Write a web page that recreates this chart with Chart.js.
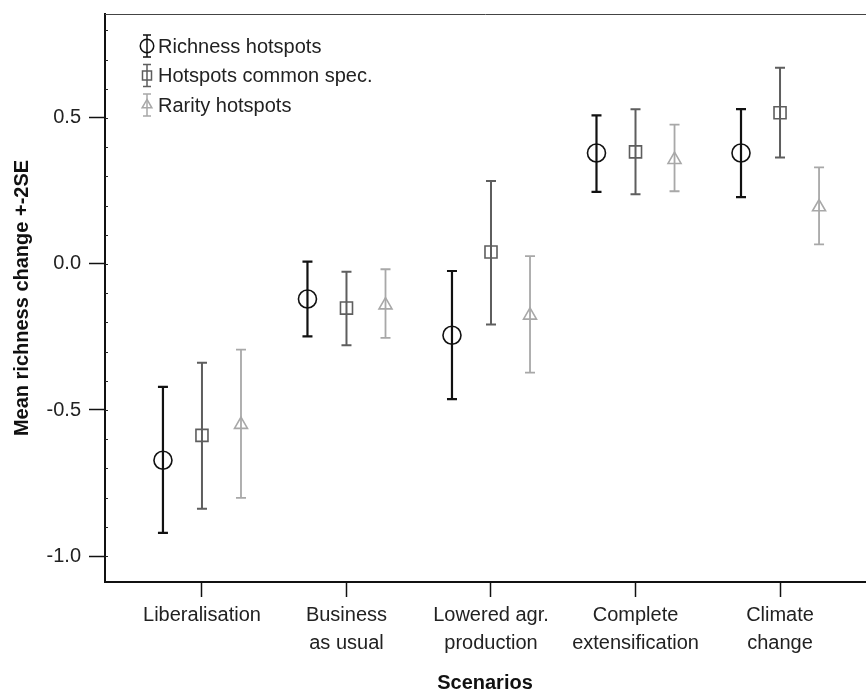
<!DOCTYPE html>
<html>
<head>
<meta charset="utf-8">
<script src="https://cdn.jsdelivr.net/npm/chart.js@4.4.1/dist/chart.umd.min.js"></script>
<style>
  body { margin: 0; background: #fff; }
  #wrap { width: 866px; height: 692px; }
</style>
</head>
<body>
<div id="wrap"><canvas id="myChart"></canvas></div>
<script>
// datos (media y +-2SE)
const scenarios = [['Liberalisation'], ['Business', 'as usual'], ['Lowered agr.', 'production'], ['Complete', 'extensification'], ['Climate', 'change']];
const seriesNames = ['Richness hotspots', 'Hotspots common spec.', 'Rarity hotspots'];

const richMean = [-0.672, -0.120, -0.244, 0.380, 0.380];
const richLow  = [-0.921, -0.248, -0.463, 0.247, 0.229];
const richHigh = [-0.421, 0.008, -0.024, 0.509, 0.530];

const commonMean = [-0.587, -0.151, 0.041, 0.384, 0.518];
const commonLow  = [-0.838, -0.278, -0.207, 0.239, 0.365];
const commonHigh = [-0.338, -0.027, 0.284, 0.530, 0.672];

const rareMean = [-0.550, -0.141, -0.176, 0.357, 0.195];
const rareLow  = [-0.801, -0.253, -0.372, 0.249, 0.067];
const rareHigh = [-0.293, -0.018, 0.027, 0.477, 0.331];

const yTicks = [-1.0, -0.5, 0.0, 0.5];

const dodge = [-0.27, 0, 0.27];
const colores = ['#111111', '#5e5e5e', '#a8a8a8'];
const estilos = ['circle', 'rect', 'triangle'];
const radios = [9, 8.5, 7.5];
const anchos = [2.2, 2, 1.8];
const fuente = '"Liberation Sans", Arial, sans-serif';

function armar(i, mean, low, high) {
    return {
        label: seriesNames[i],
        data: mean.map((m, k) => ({ x: k + 1 + dodge[i], y: m, lo: low[k], hi: high[k] })),
        pointStyle: estilos[i],
        pointRadius: radios[i],
        borderColor: colores[i],
        backgroundColor: 'rgba(0,0,0,0)',
        borderWidth: 1.6,
        barColor: colores[i],
        barWidth: anchos[i]
    };
}

const errorBars = {
    id: 'errorBars',
    beforeDatasetsDraw(chart) {
        const ctx = chart.ctx;
        const y = chart.scales.y;
        chart.data.datasets.forEach((ds, i) => {
            const meta = chart.getDatasetMeta(i);
            ctx.save();
            ctx.strokeStyle = ds.barColor;
            ctx.lineWidth = ds.barWidth;
            meta.data.forEach((pt, k) => {
                const d = ds.data[k];
                const yl = y.getPixelForValue(d.lo);
                const yh = y.getPixelForValue(d.hi);
                ctx.beginPath();
                ctx.moveTo(pt.x, yl); ctx.lineTo(pt.x, yh);
                ctx.moveTo(pt.x - 5, yl); ctx.lineTo(pt.x + 5, yl);
                ctx.moveTo(pt.x - 5, yh); ctx.lineTo(pt.x + 5, yh);
                ctx.stroke();
            });
            ctx.restore();
        });
    },
    afterDraw(chart) {
        const ctx = chart.ctx;
        const area = chart.chartArea;
        const y = chart.scales.y;
        ctx.save();
        // borde superior
        ctx.strokeStyle = '#444';
        ctx.lineWidth = 1;
        ctx.beginPath();
        ctx.moveTo(area.left, area.top + 0.5);
        ctx.lineTo(chart.width, area.top + 0.5);
        ctx.stroke();
        // ticks menores
        ctx.strokeStyle = '#222';
        ctx.beginPath();
        for (let v = -10; v <= 8; v++) {
            const py = Math.round(y.getPixelForValue(v / 10)) + 0.5;
            ctx.moveTo(area.left, py);
            ctx.lineTo(area.left + 3, py);
        }
        ctx.stroke();
        // leyenda
        ctx.font = '20px ' + fuente;
        ctx.textBaseline = 'middle';
        chart.data.datasets.forEach((ds, i) => {
            const cx = 147, cy = 46 + i * 29.5;
            ctx.strokeStyle = ds.barColor;
            ctx.fillStyle = 'rgba(0,0,0,0)';
            ctx.lineWidth = 1.5;
            ctx.beginPath();
            ctx.moveTo(cx, cy - 11); ctx.lineTo(cx, cy + 11);
            ctx.moveTo(cx - 4, cy - 11); ctx.lineTo(cx + 4, cy - 11);
            ctx.moveTo(cx - 4, cy + 11); ctx.lineTo(cx + 4, cy + 11);
            ctx.stroke();
            Chart.helpers.drawPoint(ctx, {
                pointStyle: ds.pointStyle, radius: ds.pointRadius * 0.75,
                borderWidth: 1.4, rotation: 0
            }, cx, cy);
            ctx.fillStyle = '#222';
            ctx.fillText(ds.label, 158, cy + 1);
        });
        ctx.restore();
    }
};

const myChart = new Chart(document.getElementById('myChart').getContext('2d'), {
    type: 'scatter',
    data: {
        datasets: [
            armar(0, richMean, richLow, richHigh),
            armar(1, commonMean, commonLow, commonHigh),
            armar(2, rareMean, rareLow, rareHigh)
        ]
    },
    options: {
        responsive: true,
        maintainAspectRatio: false,
        animation: false,
        events: [],
        layout: { autoPadding: false, padding: { top: 14, right: 1, left: 0, bottom: 0 } },
        plugins: {
            legend: { display: false },
            tooltip: { enabled: false }
        },
        scales: {
            x: {
                type: 'linear',
                min: 0.329,
                max: 5.588,
                afterBuildTicks: (scale) => { scale.ticks = scenarios.map((s, i) => ({ value: i + 1 })); },
                afterFit: (scale) => { scale.height = 110; scale.paddingLeft = 0; scale.paddingRight = 0; },
                grid: { drawOnChartArea: false, drawTicks: true, tickLength: 15, tickColor: '#111', tickWidth: 1.5 },
                border: { display: true, color: '#111', width: 2 },
                ticks: {
                    autoSkip: false,
                    maxRotation: 0,
                    padding: 4,
                    color: '#222',
                    font: { family: fuente, size: 20, lineHeight: 1.4 },
                    callback: (v) => scenarios[Math.round(v) - 1]
                },
                title: {
                    display: true,
                    text: 'Scenarios',
                    color: '#111',
                    padding: { top: 0, bottom: -1 },
                    font: { family: fuente, size: 20, weight: 'bold', lineHeight: 1 }
                }
            },
            y: {
                min: -1.089,
                max: 0.856,
                afterBuildTicks: (scale) => { scale.ticks = yTicks.map(v => ({ value: v })); },
                afterFit: (scale) => { scale.width = 105; scale.paddingTop = 0; scale.paddingBottom = 0; },
                grid: { drawOnChartArea: false, drawTicks: true, tickLength: 16, tickColor: '#111', tickWidth: 1.5 },
                border: { display: true, color: '#111', width: 2 },
                ticks: {
                    padding: 8,
                    color: '#222',
                    font: { family: fuente, size: 20 },
                    callback: (v) => v.toFixed(1)
                },
                title: {
                    display: true,
                    text: 'Mean richness change +-2SE',
                    color: '#111',
                    padding: { top: 10, bottom: 0 },
                    font: { family: fuente, size: 20, weight: 'bold' }
                }
            }
        }
    },
    plugins: [errorBars]
});
</script>
</body>
</html>
